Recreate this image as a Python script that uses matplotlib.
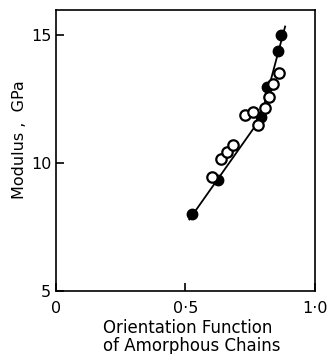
import matplotlib
matplotlib.use("Agg")
import matplotlib.pyplot as plt

# open circles
open_x = [0.602, 0.637, 0.659, 0.684, 0.730, 0.761, 0.780, 0.807, 0.822, 0.838, 0.861]
open_y = [9.45, 10.15, 10.44, 10.70, 11.90, 12.00, 11.50, 12.15, 12.60, 13.10, 13.55]

# filled circles
full_x = [0.525, 0.625, 0.790, 0.815, 0.856, 0.871]
full_y = [8.00, 9.35, 11.80, 13.00, 14.40, 15.00]

# fitted line (kinked)
line_x = [0.515, 0.790, 0.885]
line_y = [7.80, 11.75, 15.35]

x_ticks = [0, 0.5, 1.0]
x_labels = ["0", "0·5", "1·0"]
y_ticks = [5, 10, 15]
y_labels = ["5", "10", "15"]

fig = plt.figure(figsize=(3.28, 3.54), dpi=100)
ax = fig.add_axes([0.171, 0.178, 0.789, 0.794])

ax.plot(line_x, line_y, color="black", lw=1.3, zorder=1)
ax.plot(full_x, full_y, "o", ms=7.5, mfc="black", mec="black", zorder=2)
ax.plot(open_x, open_y, "o", ms=7.5, mfc="white", mec="black", mew=1.6, zorder=3)

ax.set_xlim(0, 1.0)
ax.set_ylim(5, 16)
ax.set_xticks(x_ticks)
ax.set_xticklabels(x_labels)
ax.set_yticks(y_ticks)
ax.set_yticklabels(y_labels)
ax.tick_params(direction="in", length=6, width=1.2, labelsize=11.5)
ax.tick_params(axis="x", pad=7)

for s in ax.spines.values():
    s.set_linewidth(1.2)

ax.set_xlabel("Orientation Function\nof Amorphous Chains", fontsize=12,
              linespacing=1.0, multialignment="left")
ax.xaxis.set_label_coords(0.525, -0.098, transform=ax.transAxes)
ax.xaxis.label.set_verticalalignment("top")
ax.set_ylabel("Modulus ,  GPa", fontsize=11.5, labelpad=3)
ax.yaxis.label.set_y(0.54)

fig.savefig("out.png", dpi=100)
